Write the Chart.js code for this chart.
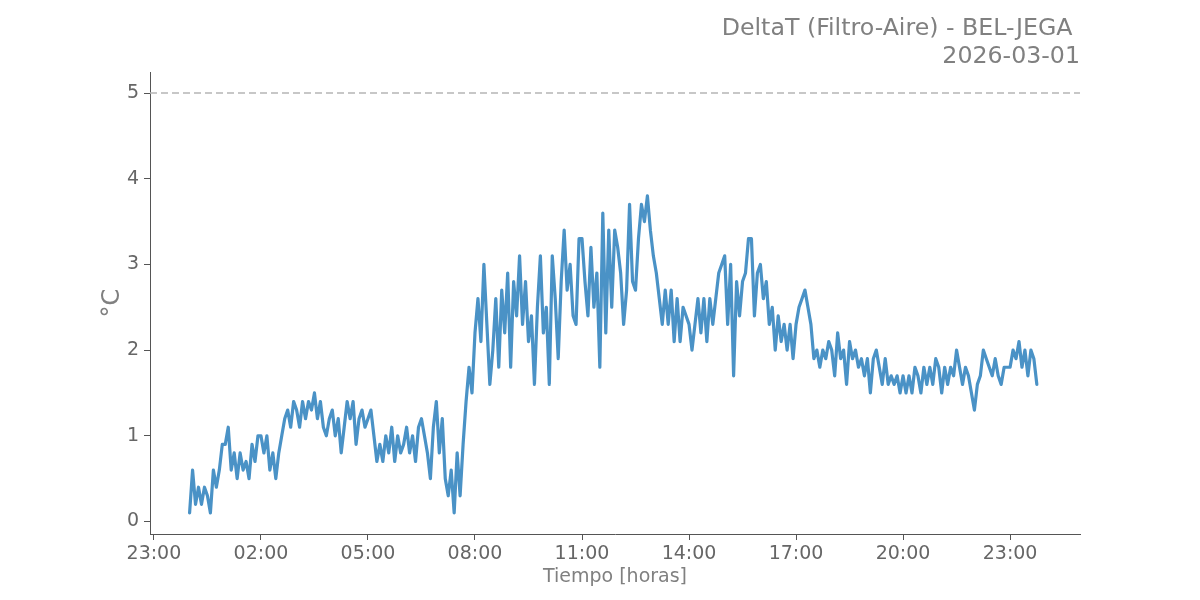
<!DOCTYPE html>
<html>
<head>
<meta charset="utf-8">
<script src="https://cdn.jsdelivr.net/npm/chart.js@4/dist/chart.umd.min.js"></script>
<style>
  html, body { margin: 0; padding: 0; background: #ffffff; }
  #wrap { width: 1200px; height: 600px; }
</style>
</head>
<body>
<div id="wrap"><canvas id="deltaChart" width="1200" height="600"></canvas></div>
<script>
// DeltaT readings every 5 minutes, 00:00 -> 23:45
const night = [
  0.1, 0.6, 0.2, 0.4, 0.2, 0.4, 0.3, 0.1, 0.6, 0.4, 0.6, 0.9,
  0.9, 1.1, 0.6, 0.8, 0.5, 0.8, 0.6, 0.7, 0.5, 0.9, 0.7, 1.0,
  1.0, 0.8, 1.0, 0.6, 0.8, 0.5, 0.8, 1.0, 1.2, 1.3, 1.1, 1.4,
  1.3, 1.1, 1.4, 1.2, 1.4, 1.3, 1.5, 1.2, 1.4, 1.1, 1.0, 1.2,
  1.3, 1.0, 1.2, 0.8, 1.1, 1.4, 1.2, 1.4, 0.9, 1.2, 1.3, 1.1,
  1.2, 1.3, 1.0, 0.7, 0.9, 0.7, 1.0, 0.8, 1.1, 0.7, 1.0, 0.8,
];
const morning = [
  0.9, 1.1, 0.8, 1.0, 0.7, 1.1, 1.2, 1.0, 0.8, 0.5, 1.1, 1.4,
  0.8, 1.2, 0.5, 0.3, 0.6, 0.1, 0.8, 0.3, 0.9, 1.4, 1.8, 1.5,
  2.2, 2.6, 2.1, 3.0, 2.3, 1.6, 2.0, 2.6, 1.8, 2.7, 2.2, 2.9,
  1.8, 2.8, 2.4, 3.1, 2.3, 2.8, 2.1, 2.4, 1.6, 2.5, 3.1, 2.2,
  2.5, 1.6, 3.1, 2.6, 1.9, 2.8, 3.4, 2.7, 3.0, 2.4, 2.3, 3.3,
  3.3, 2.8, 2.4, 3.2, 2.5, 2.9, 1.8, 3.6, 2.2, 3.4, 2.5, 3.4,
];
const afternoon = [
  3.2, 2.9, 2.3, 2.7, 3.7, 2.8, 2.7, 3.3, 3.7, 3.5, 3.8, 3.4,
  3.1, 2.9, 2.6, 2.3, 2.7, 2.3, 2.7, 2.1, 2.6, 2.1, 2.5, 2.4,
  2.3, 2.0, 2.3, 2.6, 2.2, 2.6, 2.1, 2.6, 2.3, 2.6, 2.9, 3.0,
  3.1, 2.3, 3.0, 1.7, 2.8, 2.4, 2.8, 2.9, 3.3, 3.3, 2.4, 2.9,
  3.0, 2.6, 2.8, 2.3, 2.5, 2.0, 2.4, 2.1, 2.3, 2.0, 2.3, 1.9,
  2.3, 2.5, 2.6, 2.7, 2.5, 2.3, 1.9, 2.0, 1.8, 2.0, 1.9, 2.1,
];
const evening = [
  2.0, 1.7, 2.2, 1.9, 2.0, 1.6, 2.1, 1.9, 2.0, 1.8, 1.9, 1.7,
  1.9, 1.5, 1.9, 2.0, 1.8, 1.6, 1.9, 1.6, 1.7, 1.6, 1.7, 1.5,
  1.7, 1.5, 1.7, 1.5, 1.8, 1.7, 1.5, 1.8, 1.6, 1.8, 1.6, 1.9,
  1.8, 1.5, 1.8, 1.6, 1.8, 1.7, 2.0, 1.8, 1.6, 1.8, 1.7, 1.5,
  1.3, 1.6, 1.7, 2.0, 1.9, 1.8, 1.7, 1.9, 1.7, 1.6, 1.8, 1.8,
  1.8, 2.0, 1.9, 2.1, 1.8, 2.0, 1.7, 2.0, 1.9, 1.6,
];

const stepMinutes = 5;
const thresholdValue = 5;
const xTickHours = [-1, 2, 5, 8, 11, 14, 17, 20, 23]; // hours relative to 00:00 of the day
const yTickValues = [0, 1, 2, 3, 4, 5];
const titleLines = ["DeltaT (Filtro-Aire) - BEL-JEGA ", "2026-03-01"];

const X_MIN = -1.11;
const X_MAX = 24.96;

const readings = [...night, ...morning, ...afternoon, ...evening];
const points = readings.map((v, i) => ({ x: (i * stepMinutes) / 60, y: v }));

function hourLabel(h) {
  const hh = ((h % 24) + 24) % 24;
  return String(hh).padStart(2, "0") + ":00";
}

const grey = "#808080";
const tickGrey = "#666666";
const font = "'DejaVu Sans', sans-serif";

new Chart(document.querySelector("#deltaChart"), {
  type: "line",
  data: {
    datasets: [
      {
        label: "DeltaT",
        data: points,
        borderColor: "#4a92c6",
        borderWidth: 3.2,
        borderJoinStyle: "round",
        borderCapStyle: "round",
        pointRadius: 0,
        tension: 0,
      },
      {
        label: "Limite",
        data: [{ x: X_MIN, y: thresholdValue }, { x: X_MAX, y: thresholdValue }],
        borderColor: "#b5b5b5",
        borderWidth: 1.5,
        borderDash: [7, 4],
        pointRadius: 0,
      },
    ],
  },
  options: {
    responsive: false,
    animation: false,
    devicePixelRatio: 1,
    layout: { padding: { left: 0, right: 120, top: 0, bottom: 0 } },
    plugins: {
      legend: { display: false },
      tooltip: { enabled: false },
      title: {
        display: true,
        text: titleLines,
        align: "end",
        color: grey,
        font: { family: font, size: 23.7, weight: "normal", lineHeight: 1.18 },
        padding: { top: 15, bottom: 1.1 },
      },
    },
    scales: {
      x: {
        type: "linear",
        min: X_MIN,
        max: X_MAX,
        afterBuildTicks: (scale) => { scale.ticks = xTickHours.map((v) => ({ value: v })); },
        afterFit: (scale) => { scale.height = 66; },
        grid: { drawOnChartArea: false, drawTicks: true, tickLength: 6, tickColor: "#555555", tickWidth: 1 },
        border: { display: true, color: "#555555", width: 1 },
        ticks: {
          color: tickGrey,
          font: { family: font, size: 19 },
          padding: 3,
          maxRotation: 0,
          autoSkip: false,
          callback: (v) => hourLabel(v),
        },
        title: {
          display: true,
          text: "Tiempo [horas]",
          color: grey,
          font: { family: font, size: 19 },
          padding: { top: 0, bottom: 12 },
        },
      },
      y: {
        min: -0.146,
        max: 5.245,
        afterBuildTicks: (scale) => { scale.ticks = yTickValues.map((v) => ({ value: v })); },
        afterFit: (scale) => { scale.width = 150; },
        grid: { drawOnChartArea: false, drawTicks: true, tickLength: 6, tickColor: "#555555", tickWidth: 1 },
        border: { display: true, color: "#555555", width: 1 },
        ticks: {
          color: tickGrey,
          font: { family: font, size: 19 },
          padding: 5,
        },
        title: {
          display: true,
          text: "°C",
          color: grey,
          font: { family: font, size: 24 },
          padding: { top: 98, bottom: 0 },
        },
      },
    },
  },
});
</script>
</body>
</html>
